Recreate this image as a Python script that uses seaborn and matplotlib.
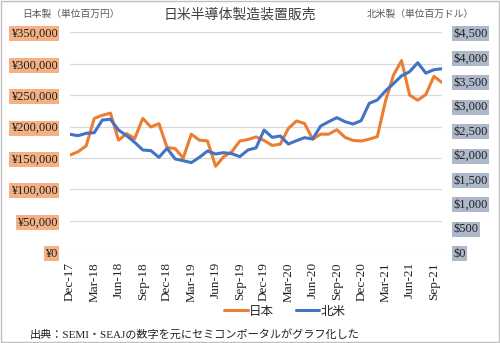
import matplotlib
matplotlib.use("Agg")
import matplotlib.pyplot as plt
import seaborn as sns
import numpy as np
from matplotlib.patches import Rectangle
from matplotlib.lines import Line2D

# ---- data ----
japan_k_yen = [154.7, 160, 169.4, 213, 218, 221.5, 178.4, 188.8, 181, 213, 199.4, 204.7,
               166.8, 165, 150, 187.9, 178.4, 177.3, 136.8, 152, 160, 177, 179.4, 183.6,
               178, 170, 172, 197, 209, 205, 180, 188, 188, 195, 183, 178,
               177, 180, 184, 240, 282, 305, 250, 242, 251, 280, 270]
na_musd = [2413, 2386, 2434, 2447, 2706, 2720, 2501, 2386, 2249, 2093, 2079, 1943,
           2127, 1909, 1875, 1834, 1943, 2072, 2011, 2038, 2018, 1957, 2093, 2135,
           2501, 2351, 2379, 2215, 2283, 2345, 2318, 2583, 2672, 2754, 2672, 2624,
           2692, 3047, 3115, 3300, 3450, 3610, 3695, 3879, 3665, 3735, 3755]
tick_labels = ["Dec-17", "Mar-18", "Jun-18", "Sep-18", "Dec-18", "Mar-19", "Jun-19",
               "Sep-19", "Dec-19", "Mar-20", "Jun-20", "Sep-20", "Dec-20", "Mar-21",
               "Jun-21", "Sep-21"]
left_ticks = [0, 50000, 100000, 150000, 200000, 250000, 300000, 350000]
right_ticks = [0, 500, 1000, 1500, 2000, 2500, 3000, 3500, 4000, 4500]
series_names = ["日本", "北米"]

sns.set_style("white")
SERIF = ["Liberation Serif", "Noto Sans CJK JP"]
CJK = ["Noto Sans CJK JP", "DejaVu Sans"]
plt.rcParams["font.family"] = SERIF

ORANGE = "#ED7D31"
BLUE = "#4472C4"

fig = plt.figure(figsize=(5.0, 3.43), dpi=100)
ax = fig.add_axes([0.14, 0.2644, 0.744, 0.6414])
ax2 = ax.twinx()

idx = np.arange(len(japan_k_yen))
japan = [v * 1000 for v in japan_k_yen]
sns.lineplot(x=idx, y=japan, ax=ax, color=ORANGE, lw=2.2, legend=False)
sns.lineplot(x=idx, y=na_musd, ax=ax2, color=BLUE, lw=2.2, legend=False)

ax.set_xlim(0, len(idx) - 1)
ax.set_ylim(0, 350000)
ax2.set_ylim(0, 4500)

ax.set_xticks(np.arange(0, len(idx), 3)[:len(tick_labels)])
ax.set_xticklabels(tick_labels, rotation=90, fontsize=9.5, color="#222222")
ax.set_yticks(left_ticks)
ax.set_yticklabels(["¥{:,}".format(v) for v in left_ticks], fontsize=9, color="#222222")
ax2.set_yticks(right_ticks)
ax2.set_yticklabels(["${:,}".format(v) for v in right_ticks], fontsize=9, color="#222222")

ax.tick_params(axis="x", length=0, pad=7)
ax.tick_params(axis="y", length=0, pad=9)
ax2.tick_params(axis="y", length=0, pad=8)

for lab in ax.get_yticklabels():
    lab.set_bbox(dict(boxstyle="square,pad=0.12", fc="#F4B183", ec="none"))
for lab in ax2.get_yticklabels():
    lab.set_bbox(dict(boxstyle="square,pad=0.12", fc="#ADB9CA", ec="none"))

ax.set_xlabel("")
ax.set_ylabel("")
ax2.set_ylabel("")
ax.yaxis.grid(True, color="#d9d9d9", lw=0.9)
ax.xaxis.grid(False)
ax2.grid(False)
for a in (ax, ax2):
    for s in a.spines.values():
        s.set_visible(False)

# titles
fig.text(240 / 500, 1 - 15 / 343, "日米半導体製造装置販売", ha="center", va="center",
         fontsize=10, color="#404040", family=CJK)
fig.text(22 / 500, 1 - 14 / 343, "日本製（単位百万円）", ha="left", va="center",
         fontsize=7, color="#595959", family=CJK)
fig.text(367 / 500, 1 - 14 / 343, "北米製（単位百万ドル）", ha="left", va="center",
         fontsize=7, color="#595959", family=CJK)

# legend
handles = [Line2D([], [], color=ORANGE, lw=2.2), Line2D([], [], color=BLUE, lw=2.2)]
fig.legend(handles, series_names, loc="center", bbox_to_anchor=(285 / 500, 1 - 311 / 343),
           ncol=2, frameon=False, handlelength=1.85, handletextpad=0.1, columnspacing=1.8,
           prop={"family": CJK, "size": 9})

# source
fig.text(30 / 500, 1 - 334 / 343, "出典：SEMI・SEAJの数字を元にセミコンポータルがグラフ化した",
         ha="left", va="center", fontsize=8, color="#222222", family=SERIF)

# outer border
fig.patches.append(Rectangle((0.002, 0.003), 0.995, 0.993, transform=fig.transFigure,
                             fill=False, ec="#bfbfbf", lw=1))

fig.savefig("out.png", dpi=100)
